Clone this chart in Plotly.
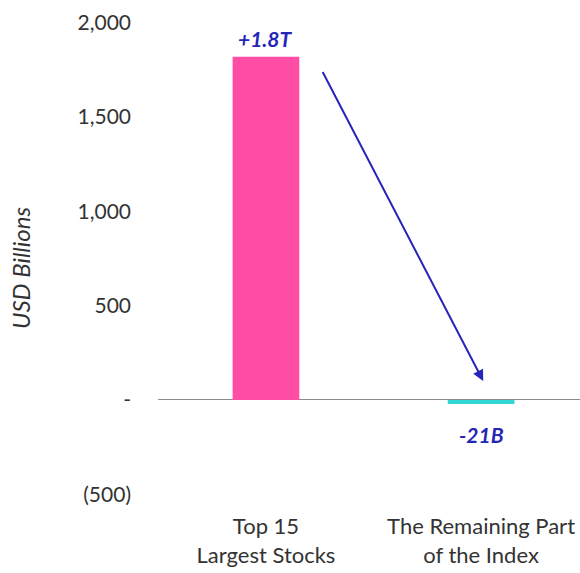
import plotly.graph_objects as go

categories = ["Top 15<br>Largest Stocks", "The Remaining Part<br>of the Index"]
values = [1820, -21]
value_labels = ["+1.8T", "-21B"]
bar_colors = ["#FF4DA6", "#33D6D6"]
tick_vals = [2000, 1500, 1000, 500, 0, -500]
tick_text = ["2,000", "1,500", "1,000", "500", "-", "(500)"]
y_title = "USD Billions"

FONT = "Lato, Open Sans, sans-serif"
BLUE = "#2525B8"
TXT = "#333333"

fig = go.Figure()
fig.add_trace(go.Bar(
    x=[0, 1], y=values, width=0.31,
    marker=dict(color=bar_colors, line=dict(width=0)),
    hoverinfo="skip",
))

# value labels
fig.add_annotation(x=0, y=values[0], text="<b><i>" + value_labels[0] + "</i></b>",
                   showarrow=False, yanchor="bottom", yshift=4,
                   font=dict(family=FONT, size=21, color=BLUE))
fig.add_annotation(x=1, y=values[1], text="<b><i>" + value_labels[1] + "</i></b>",
                   showarrow=False, yanchor="top", yshift=-16,
                   font=dict(family=FONT, size=21, color=BLUE))

# arrow from top of first bar to second bar
arrow_start = (0.26, values[0] * 0.96)
arrow_end = (1.01, 100)
fig.add_annotation(x=arrow_end[0], y=arrow_end[1], ax=arrow_start[0], ay=arrow_start[1],
                   xref="x", yref="y", axref="x", ayref="y",
                   showarrow=True, arrowhead=2, arrowsize=1.1, arrowwidth=2,
                   arrowcolor=BLUE, text="")

# y-axis title
fig.add_annotation(x=-0.327, y=0.4637, xref="paper", yref="paper",
                   text="<i>" + y_title + "</i>", textangle=-90, showarrow=False,
                   xanchor="center", yanchor="middle",
                   font=dict(family=FONT, size=24, color=TXT))

fig.update_layout(
    width=580, height=573,
    margin=dict(l=158, r=0, t=2, b=75),
    paper_bgcolor="white", plot_bgcolor="white",
    showlegend=False,
    font=dict(family=FONT, color=TXT),
    xaxis=dict(
        range=[-0.502, 1.46],
        tickvals=[0, 1], ticktext=categories,
        showgrid=False, zeroline=False, showline=False,
        tickfont=dict(size=22, color=TXT),
        ticks="", ticklabelstandoff=13,
    ),
    yaxis=dict(
        range=[-520, 2110],
        tickvals=tick_vals, ticktext=tick_text,
        showgrid=False, zeroline=True, zerolinecolor="#8C8C8C", zerolinewidth=1,
        showline=False, ticks="",
        tickfont=dict(size=21, color=TXT),
        ticklabelstandoff=26,
    ),
)

fig.write_html("out.html")
